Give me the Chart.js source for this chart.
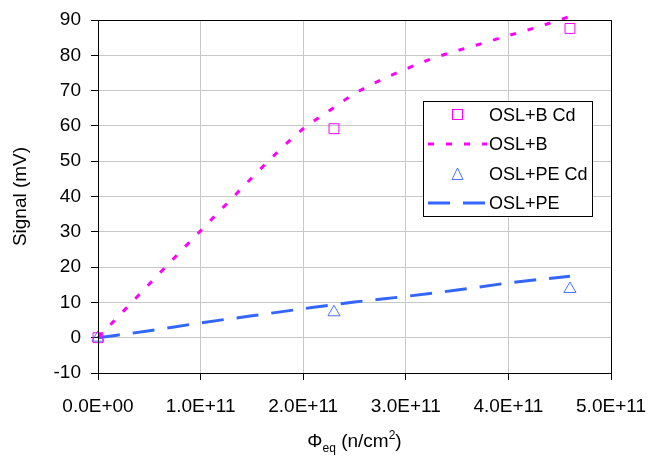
<!DOCTYPE html>
<html>
<head>
<meta charset="utf-8">
<script src="https://cdn.jsdelivr.net/npm/chart.js@4"></script>
<style>
  html, body { margin: 0; padding: 0; background: #fff; }
  #wrap { width: 653px; height: 457px; }
</style>
</head>
<body>
<div id="wrap"><canvas id="chartSignal" width="653" height="457"></canvas></div>
<script>
// ==========================
// DATA
// ==========================
const fluence = [0, 2.3e11, 4.6e11];
const oslBCd = [0, 59.2, 87.6];
const oslPECd = [0, 7.2, 13.8];

const oslBFitX = [0, 0.25e11, 0.5e11, 0.75e11, 1.0e11, 1.25e11, 1.5e11, 1.75e11, 2.0e11, 2.25e11,
  2.5e11, 2.75e11, 3.0e11, 3.25e11, 3.5e11, 3.75e11, 4.0e11, 4.25e11, 4.6e11];
const oslBFit = [0, 7.6, 15.2, 22.8, 30.3, 37.8, 45.3, 52.6, 59.2, 64.2,
  69.1, 72.9, 76.1, 79.0, 81.3, 83.4, 85.6, 87.7, 91.0];

const oslPEFitX = [0, 0.5e11, 1.0e11, 1.5e11, 2.0e11, 2.5e11, 3.0e11, 3.5e11, 4.0e11, 4.6e11];
const oslPEFit = [0, 1.95, 4.2, 6.2, 8.2, 10.1, 11.7, 13.5, 15.5, 17.4];

const xTicks = [0, 1e11, 2e11, 3e11, 4e11, 5e11];
const yTicks = [-10, 0, 10, 20, 30, 40, 50, 60, 70, 80, 90];

const MAGENTA = "#ff00ff";
const BLUE = "#3366ff";
const FONT = "'Liberation Sans', Arial, sans-serif";

function pts(xs, ys) {
  return xs.map((x, i) => ({ x: x, y: ys[i] }));
}

function sci(v) {
  const s = Number(v).toExponential(1).toUpperCase();
  return s.replace(/E([+-])(\d)$/, "E$10$2");
}

// ==========================
// PLUGINS: plot frame, legend box, x title
// ==========================
const framePlugin = {
  id: "frame",
  afterDraw(chart) {
    const a = chart.chartArea;
    const ctx = chart.ctx;
    ctx.save();
    ctx.strokeStyle = "#000";
    ctx.lineWidth = 1;
    ctx.strokeRect(Math.round(a.left) + 0.5, Math.round(a.top) + 0.5,
      Math.round(a.right - a.left), Math.round(a.bottom - a.top));
    ctx.restore();
  }
};

const legendPlugin = {
  id: "boxLegend",
  afterDraw(chart) {
    const a = chart.chartArea;
    const ctx = chart.ctx;
    const bx = a.right - 188, by = a.top + 81, bw = 169, bh = 115;
    ctx.save();
    ctx.fillStyle = "#fff";
    ctx.fillRect(bx, by, bw, bh);
    ctx.strokeStyle = "#000";
    ctx.lineWidth = 1;
    ctx.strokeRect(bx + 0.5, by + 0.5, bw, bh);

    const rows = [by + 14, by + 43, by + 73, by + 102];
    ctx.font = "18px " + FONT;
    ctx.textBaseline = "middle";
    ctx.fillStyle = "#000";
    chart.data.datasets.forEach((ds, i) => {
      const y = rows[i];
      ctx.fillText(ds.label, bx + 66, y + 1);
      ctx.strokeStyle = ds.borderColor;
      if (ds.showLine === false) {
        ctx.lineWidth = 1;
        ctx.setLineDash([]);
        if (ds.pointStyle === "rect") {
          ctx.strokeRect(bx + 29.5, y - 5.5, 10, 10);
        } else {
          ctx.beginPath();
          ctx.moveTo(bx + 34.5, y - 6);
          ctx.lineTo(bx + 40, y + 5.5);
          ctx.lineTo(bx + 29, y + 5.5);
          ctx.closePath();
          ctx.stroke();
        }
      } else {
        ctx.lineWidth = 3;
        ctx.setLineDash(ds.borderDash);
        ctx.beginPath();
        ctx.moveTo(bx + 5, y);
        ctx.lineTo(bx + 64, y);
        ctx.stroke();
      }
    });
    ctx.restore();
  }
};

const xTitlePlugin = {
  id: "xTitle",
  afterDraw(chart) {
    const a = chart.chartArea;
    const ctx = chart.ctx;
    const parts = [
      { t: "\u03A6", size: 19, dy: 0 },
      { t: "eq", size: 12, dy: 5 },
      { t: " (n/cm", size: 19, dy: 0 },
      { t: "2", size: 12, dy: -8 },
      { t: ")", size: 19, dy: 0 }
    ];
    ctx.save();
    ctx.fillStyle = "#000";
    ctx.textBaseline = "alphabetic";
    let total = 0;
    parts.forEach(p => {
      ctx.font = p.size + "px " + FONT;
      p.w = ctx.measureText(p.t).width;
      total += p.w;
    });
    let x = (a.left + a.right) / 2 - total / 2;
    const base = 447;
    parts.forEach(p => {
      ctx.font = p.size + "px " + FONT;
      ctx.fillText(p.t, x, base + p.dy);
      x += p.w;
    });
    ctx.restore();
  }
};

// ==========================
// CHART
// ==========================
document.addEventListener("DOMContentLoaded", () => {
  new Chart(document.getElementById("chartSignal"), {
    type: "scatter",
    data: {
      datasets: [
        {
          label: "OSL+B Cd",
          data: pts(fluence, oslBCd),
          showLine: false,
          pointStyle: "rect",
          pointRadius: 7,
          pointBorderWidth: 1,
          borderColor: MAGENTA,
          backgroundColor: "rgba(0,0,0,0)",
          clip: false
        },
        {
          label: "OSL+B",
          data: pts(oslBFitX, oslBFit),
          showLine: true,
          borderColor: MAGENTA,
          borderWidth: 3,
          borderDash: [6, 12],
          pointRadius: 0,
          cubicInterpolationMode: "monotone",
          clip: 6
        },
        {
          label: "OSL+PE Cd",
          data: pts(fluence, oslPECd),
          showLine: false,
          pointStyle: "triangle",
          pointRadius: 7,
          pointBorderWidth: 1,
          borderColor: "#4a74ff",
          backgroundColor: "rgba(0,0,0,0)",
          clip: false
        },
        {
          label: "OSL+PE",
          data: pts(oslPEFitX, oslPEFit),
          showLine: true,
          borderColor: BLUE,
          borderWidth: 3,
          borderDash: [22, 13],
          pointRadius: 0,
          cubicInterpolationMode: "monotone"
        }
      ]
    },
    options: {
      responsive: false,
      animation: false,
      layout: { padding: { top: 20, right: 42, left: 0, bottom: 0 } },
      plugins: {
        legend: { display: false },
        tooltip: { enabled: false }
      },
      scales: {
        x: {
          type: "linear",
          min: 0,
          max: 5e11,
          afterFit(scale) {
            scale.height = 84;
            scale.paddingLeft = 0;
            scale.paddingRight = 0;
          },
          afterBuildTicks(scale) { scale.ticks = xTicks.map(v => ({ value: v })); },
          grid: { color: "#c8c8c8", lineWidth: 1, tickLength: 7, tickColor: "#000" },
          border: { color: "#000", width: 1 },
          ticks: {
            color: "#000",
            font: { family: FONT, size: 19 },
            padding: 15,
            maxRotation: 0,
            callback: v => sci(v)
          }
        },
        y: {
          min: -10,
          max: 90,
          afterFit(scale) {
            scale.width = 98;
            scale.paddingTop = 0;
            scale.paddingBottom = 0;
          },
          afterBuildTicks(scale) { scale.ticks = yTicks.map(v => ({ value: v })); },
          grid: { color: "#c8c8c8", lineWidth: 1, tickLength: 7, tickColor: "#000" },
          border: { color: "#000", width: 1 },
          title: {
            display: true,
            text: "Signal (mV)",
            color: "#000",
            font: { family: FONT, size: 19 },
            padding: { top: 9, bottom: 0 }
          },
          ticks: {
            color: "#000",
            font: { family: FONT, size: 19 },
            padding: 10
          }
        }
      }
    },
    plugins: [framePlugin, legendPlugin, xTitlePlugin]
  });
});
</script>
</body>
</html>
